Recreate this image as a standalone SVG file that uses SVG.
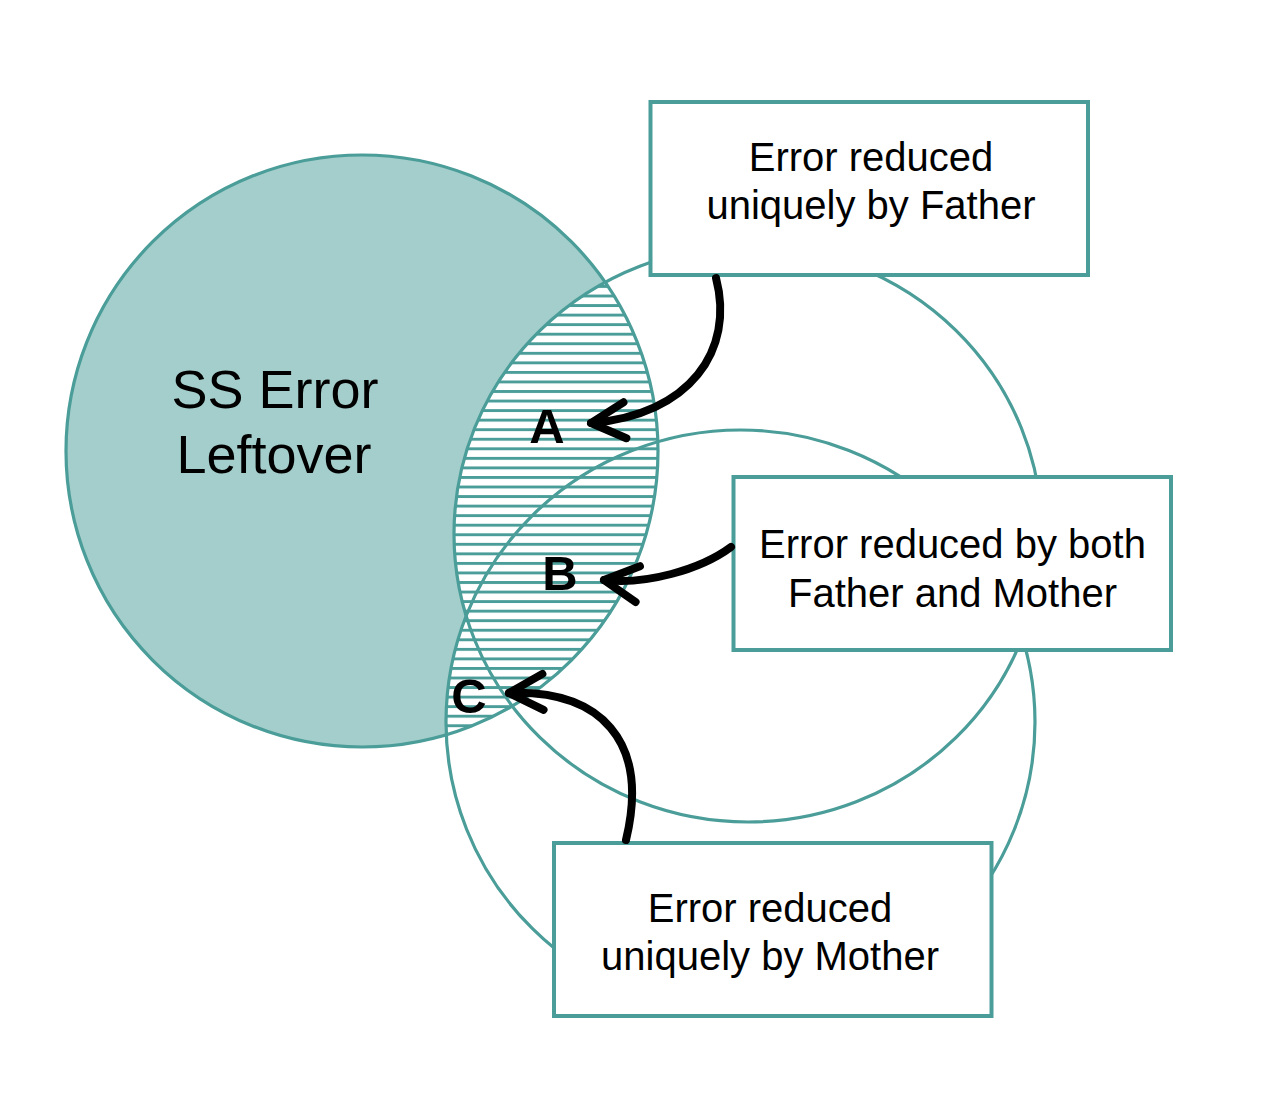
<svg xmlns="http://www.w3.org/2000/svg" width="1270" height="1108" viewBox="0 0 1270 1108">
  <style>
    .outline { fill: none; stroke: #4a9d98; stroke-width: 3.2; }
    .box { fill: #ffffff; stroke: #4a9d98; stroke-width: 4; }
    .boxtext { font-family: "Liberation Sans", Arial, sans-serif; font-size: 40px; fill: #000; text-anchor: middle; }
    .bigtext { font-family: "Liberation Sans", Arial, sans-serif; font-size: 54px; fill: #000; text-anchor: middle; }
    .label { font-family: "Liberation Sans", Arial, sans-serif; font-size: 49px; font-weight: bold; fill: #000; text-anchor: middle; }
    .arrow { fill: none; stroke: #000; stroke-width: 8; stroke-linecap: round; marker-end: url(#chev); }
  </style>
  <defs>
    <pattern id="hatch" patternUnits="userSpaceOnUse" x="0" y="399.6" width="20" height="9.55">
      <rect x="0" y="0" width="20" height="9.55" fill="#ffffff"/>
      <rect x="0" y="0" width="20" height="2.9" fill="#4a9d98"/>
    </pattern>
    <clipPath id="ssclip">
      <circle cx="362" cy="451" r="296"/>
    </clipPath>
    <marker id="chev" markerUnits="userSpaceOnUse" markerWidth="90" markerHeight="90" viewBox="-45 -45 90 90" refX="0" refY="0" orient="auto" overflow="visible">
      <path d="M -34 -18 L 0 0 L -34 18" fill="none" stroke="#000" stroke-width="8" stroke-linecap="round" stroke-linejoin="round"/>
    </marker>
  </defs>

  <rect x="0" y="0" width="1270" height="1108" fill="#ffffff"/>

  <g id="ss-error">
    <circle cx="362" cy="451" r="296" fill="#a4cecb"/>
    <g id="hatched-region" clip-path="url(#ssclip)">
      <ellipse cx="748" cy="534" rx="294" ry="288" fill="url(#hatch)"/>
      <ellipse cx="740.5" cy="722" rx="294.5" ry="292" fill="url(#hatch)"/>
    </g>
    <circle class="outline" cx="362" cy="451" r="296"/>
    <text class="bigtext" x="275" y="408">SS Error</text>
    <text class="bigtext" x="274" y="473">Leftover</text>
  </g>

  <g id="father-circle">
    <ellipse class="outline" cx="748" cy="534" rx="294" ry="288"/>
  </g>
  <g id="mother-circle">
    <ellipse class="outline" cx="740.5" cy="722" rx="294.5" ry="292"/>
  </g>

  <g id="box-father">
    <rect class="box" x="650.5" y="102" width="437.5" height="173"/>
    <text class="boxtext" x="871" y="171">Error reduced</text>
    <text class="boxtext" x="871" y="219">uniquely by Father</text>
  </g>
  <g id="box-both">
    <rect class="box" x="733.5" y="477" width="437.5" height="173"/>
    <text class="boxtext" x="952.5" y="558">Error reduced by both</text>
    <text class="boxtext" x="952.5" y="607">Father and Mother</text>
  </g>
  <g id="box-mother">
    <rect class="box" x="554" y="843" width="437.5" height="173"/>
    <text class="boxtext" x="770" y="922">Error reduced</text>
    <text class="boxtext" x="770" y="970">uniquely by Mother</text>
  </g>

  <g id="connectors">
    <path class="arrow" d="M 716 278 C 735 350 690 415 591 423"/>
    <path class="arrow" d="M 731 547 C 700 570 645 585 604 580"/>
    <path class="arrow" d="M 626 840 C 650 740 600 690 509 693"/>
  </g>

  <g id="labels">
    <text class="label" x="547" y="443">A</text>
    <text class="label" x="560" y="590">B</text>
    <text class="label" x="469" y="713">C</text>
  </g>
</svg>
